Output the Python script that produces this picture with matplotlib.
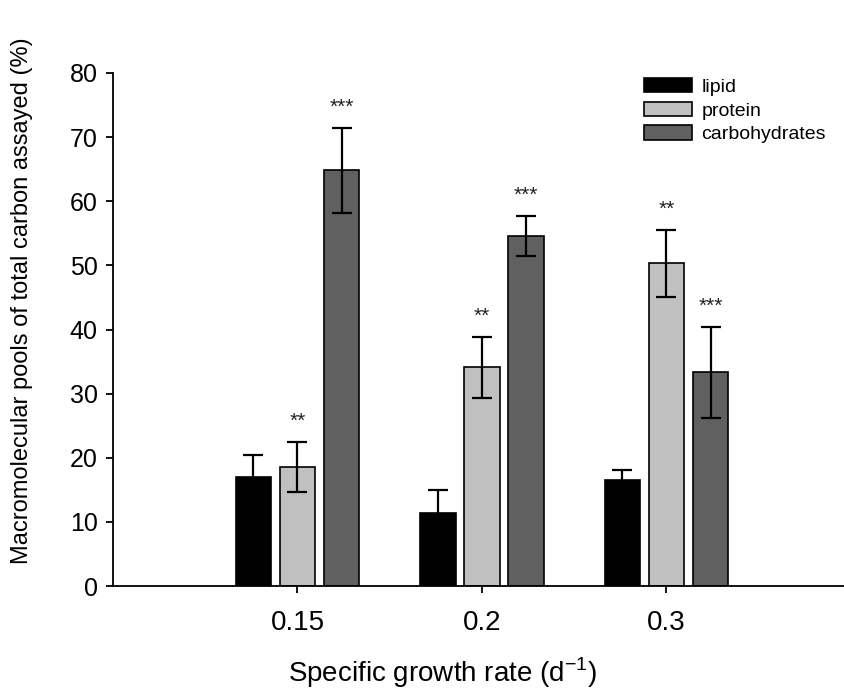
import matplotlib.pyplot as plt
import numpy as np

plt.rcParams['font.family'] = ['Liberation Sans', 'DejaVu Sans']

# growth rates (x categories)
rates = ['0.15', '0.2', '0.3']
series = ['lipid', 'protein', 'carbohydrates']

# % of total carbon assayed, with error bars
lipid = [17.0, 11.4, 16.5]
lipid_err = [3.4, 3.6, 1.6]
protein = [18.5, 34.1, 50.3]
protein_err = [3.9, 4.8, 5.2]
carbs = [64.8, 54.6, 33.3]
carbs_err = [6.6, 3.1, 7.1]

# significance marks above each bar
lipid_sig = ['', '', '']
protein_sig = ['**', '**', '**']
carbs_sig = ['***', '***', '***']

colors = ['#000000', '#c0c0c0', '#606060']

fig = plt.figure(figsize=(8.45, 6.93), dpi=100)
ax = fig.add_axes([113/845, 1-586/693, 738/845, 513/693])

x = np.arange(1, len(rates)+1)
pitch = 0.2385
width = 0.19

data = [(lipid, lipid_err, lipid_sig), (protein, protein_err, protein_sig),
        (carbs, carbs_err, carbs_sig)]
for i, (vals, errs, sigs) in enumerate(data):
    xs = x + (i-1)*pitch
    ax.bar(xs, vals, width, color=colors[i], edgecolor='black',
           linewidth=1.2, label=series[i], zorder=2)
    ax.errorbar(xs, vals, yerr=errs, fmt='none', ecolor='black',
                elinewidth=1.6, capsize=7.5, capthick=1.6, zorder=3)
    for xx, v, e, s in zip(xs, vals, errs, sigs):
        if s:
            ax.annotate(s, (xx, v+e), xytext=(0, 8), textcoords='offset points',
                        ha='center', va='bottom', fontsize=15, color='#222222')

ax.set_xlim(0, 4)
ax.set_ylim(0, 80)
ax.set_yticks(range(0, 81, 10))
ax.set_xticks(x)
ax.set_xticklabels(rates)
for s in ['top', 'right']:
    ax.spines[s].set_visible(False)
for s in ['left', 'bottom']:
    ax.spines[s].set_linewidth(1.3)
ax.tick_params(axis='both', width=1.3, length=5, colors='black')
ax.tick_params(axis='x', labelsize=20, pad=12)
ax.tick_params(axis='y', labelsize=18, pad=6)

ax.set_xlabel('Specific growth rate (d$^{\\mathregular{-1}}$)', fontsize=20)
ax.set_ylabel('Macromolecular pools of total carbon assayed (%)', fontsize=17)
ax.xaxis.set_label_coords(0.447, -0.135)
ax.yaxis.set_label_coords(-0.109, 0.556)

ax.legend(loc='upper left', bbox_to_anchor=(644/845, 1-78/693),
          bbox_transform=fig.transFigure, frameon=False, fontsize=14,
          handlelength=2.45, handleheight=0.75, handletextpad=0.5,
          labelspacing=0.3, borderpad=0, borderaxespad=0)

fig.savefig('out.png', dpi=100)
